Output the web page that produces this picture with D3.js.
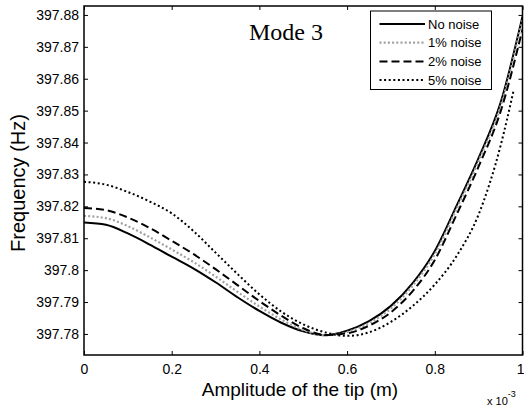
<!DOCTYPE html>
<html>
<head>
<meta charset="utf-8">
<script src="https://cdn.jsdelivr.net/npm/d3@7"></script>
<style>
body { margin: 0; background: #fff; }
text { font-family: Arial, "Liberation Sans", sans-serif; fill: #000; }
</style>
</head>
<body>
<div id="chart"></div>
<script>
// Data (amplitude in units of 1e-3 m, frequency in Hz)
const amplitude = [0, 0.05, 0.1, 0.15, 0.2, 0.25, 0.3, 0.35, 0.4, 0.45, 0.5,
    0.55, 0.6, 0.65, 0.7, 0.75, 0.8, 0.85, 0.9, 0.95, 1];
const amplitude5 = [0, 0.05, 0.1, 0.15, 0.2, 0.25, 0.3, 0.35, 0.4, 0.45, 0.5,
    0.55, 0.6, 0.65, 0.7, 0.75, 0.8, 0.85, 0.9, 0.95, 0.98];
const noNoise = [397.8149, 397.8142, 397.8115, 397.8080, 397.8042, 397.8005, 397.7962, 397.7915, 397.7872, 397.7835, 397.7808,
    397.7796, 397.7810, 397.7840, 397.7888, 397.7960, 397.8060, 397.8203, 397.8352, 397.8525, 397.8795];
const noise1 = [397.8170, 397.8163, 397.8138, 397.8103, 397.8065, 397.8025, 397.7980, 397.7932, 397.7886, 397.7845, 397.7812,
    397.7796, 397.7806, 397.7834, 397.7880, 397.7952, 397.8050, 397.8193, 397.8342, 397.8514, 397.8785];
const noise2 = [397.8195, 397.8188, 397.8165, 397.8132, 397.8092, 397.8050, 397.8003, 397.7953, 397.7903, 397.7857, 397.7818,
    397.7797, 397.7802, 397.7826, 397.7868, 397.7935, 397.8032, 397.8175, 397.8325, 397.8497, 397.8755];
const noise5 = [397.8277, 397.8268, 397.8245, 397.8215, 397.8178, 397.8122, 397.8055, 397.7988, 397.7924, 397.7870, 397.7830,
    397.7805, 397.7794, 397.7805, 397.7838, 397.7888, 397.7955, 397.8045, 397.8175, 397.8390, 397.8565];
const seriesNames = ["No noise", "1% noise", "2% noise", "5% noise"];
const xTicks = [0, 0.2, 0.4, 0.6, 0.8, 1];
const yTicks = [397.78, 397.79, 397.8, 397.81, 397.82, 397.83, 397.84, 397.85, 397.86, 397.87, 397.88];

const series = [
    {name: seriesNames[0], x: amplitude, values: noNoise, color: "#000", width: 2, dash: null},
    {name: seriesNames[1], x: amplitude, values: noise1, color: "#a0a0a0", width: 2.2, dash: "2,2.2"},
    {name: seriesNames[2], x: amplitude, values: noise2, color: "#000", width: 2, dash: "8,4"},
    {name: seriesNames[3], x: amplitude5, values: noise5, color: "#000", width: 2, dash: "2,2.6"}
];

// Canvas
const margin = {top: 6, right: 1.5, bottom: 54, left: 84};
const width = 524 - margin.left - margin.right;
const height = 409 - margin.top - margin.bottom;

const root = d3.select("#chart")
    .append("svg")
    .attr("width", 524)
    .attr("height", 409);

const svg = root.append("g")
    .attr("transform", "translate(" + margin.left + "," + margin.top + ")");

// Scales
const x = d3.scaleLinear().domain([0, 1]).range([0, width]);
const y = d3.scaleLinear().domain([397.7734, 397.8828]).range([height, 0]);

svg.append("clipPath").attr("id", "clip")
    .append("rect").attr("width", width).attr("height", height);

// Lines
const line = d3.line()
    .x(d => x(d[0]))
    .y(d => y(d[1]))
    .curve(d3.curveMonotoneX);

svg.append("g").attr("clip-path", "url(#clip)")
    .selectAll("path")
    .data(series)
    .join("path")
    .attr("d", s => line(s.x.map((v, i) => [v, s.values[i]])))
    .attr("fill", "none")
    .attr("stroke", s => s.color)
    .attr("stroke-width", s => s.width)
    .attr("stroke-dasharray", s => s.dash);

// Axes (ticks pointing inward, Matlab style)
const fmt = d => String(+d.toFixed(2));

svg.append("g")
    .attr("class", "axis")
    .call(d3.axisLeft(y).tickValues(yTicks).tickFormat(fmt).tickSize(-4).tickPadding(5));

svg.append("g")
    .attr("class", "axis")
    .attr("transform", "translate(" + width + ",0)")
    .call(d3.axisRight(y).tickValues(yTicks).tickFormat("").tickSize(-4));

const xAxis = svg.append("g")
    .attr("class", "axis")
    .attr("transform", "translate(0," + height + ")")
    .call(d3.axisBottom(x).tickValues(xTicks).tickFormat(fmt).tickSize(-4).tickPadding(9));

// last label sits at the right edge; keep it inside the window
xAxis.selectAll(".tick text").filter(d => d === 1).attr("text-anchor", "end").attr("x", 1.5);

svg.append("g")
    .attr("class", "axis")
    .call(d3.axisTop(x).tickValues(xTicks).tickFormat("").tickSize(-4));

svg.selectAll(".axis .domain").remove();
svg.selectAll(".axis line").attr("stroke", "#000").attr("stroke-width", 1);
svg.selectAll(".axis text").style("font-size", "14px").style("font-family", "Arial, 'Liberation Sans', sans-serif");

// Box
svg.append("rect")
    .attr("width", width)
    .attr("height", height)
    .attr("fill", "none")
    .attr("stroke", "#000")
    .attr("stroke-width", 1.5);

// Labels
svg.append("text")
    .attr("x", 300 - margin.left)
    .attr("y", 396 - margin.top)
    .attr("text-anchor", "middle")
    .style("font-size", "19px")
    .text("Amplitude of the tip (m)");

root.append("text")
    .attr("transform", "translate(24.5,183) rotate(-90)")
    .attr("text-anchor", "middle")
    .style("font-size", "20px")
    .text("Frequency (Hz)");

const mult = root.append("text")
    .attr("x", 487)
    .attr("y", 405)
    .style("font-size", "11px");
mult.append("tspan").text("x 10");
mult.append("tspan").attr("dy", -8).style("font-size", "9px").text("-3");

root.append("text")
    .attr("x", 286)
    .attr("y", 40)
    .attr("text-anchor", "middle")
    .style("font-family", "'Times New Roman', 'Liberation Serif', serif")
    .style("font-size", "24px")
    .text("Mode 3");

// Legend
const legend = root.append("g").attr("transform", "translate(370.5,11)");

legend.append("rect")
    .attr("width", 121)
    .attr("height", 78.5)
    .attr("fill", "#fff")
    .attr("stroke", "#000")
    .attr("stroke-width", 1);

const item = legend.selectAll(".legend")
    .data(series)
    .enter().append("g")
    .attr("class", "legend")
    .attr("transform", (d, i) => "translate(0," + (13 + i * 18.7) + ")");

item.append("line")
    .attr("x1", 9)
    .attr("x2", 54.5)
    .attr("stroke", d => d.color)
    .attr("stroke-width", d => d.width)
    .attr("stroke-dasharray", d => d.dash);

item.append("text")
    .attr("x", 57.5)
    .attr("dy", "0.35em")
    .style("font-size", "13px")
    .text(d => d.name);
</script>
</body>
</html>
